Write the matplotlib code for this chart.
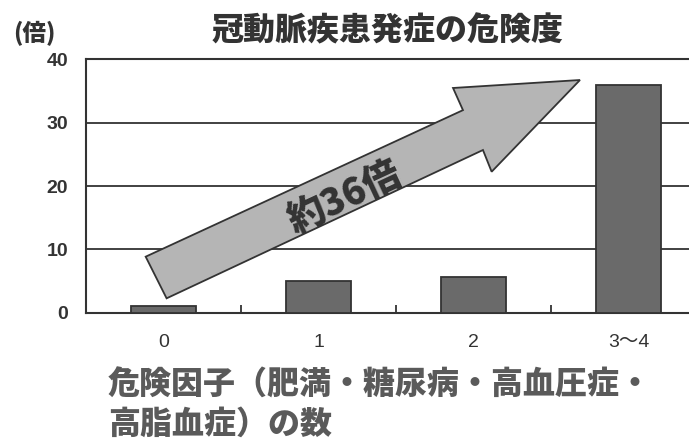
import matplotlib
matplotlib.use("Agg")
import matplotlib.pyplot as plt
from matplotlib.patches import Polygon
import numpy as np

plt.rcParams['font.family'] = ['Noto Sans CJK JP', 'DejaVu Sans']

# ---- data ----
categories = ['0', '1', '2', '3～4']
values = [1.0, 5.0, 5.7, 36.0]
y_ticks = [0, 10, 20, 30, 40]
title = '冠動脈疾患発症の危険度'
unit_label = '(倍)'
xlabel_lines = ['危険因子（肥満・糖尿病・高血圧症・', '高脂血症）の数']
arrow_text = '約36倍'

W, H = 689, 442
fig = plt.figure(figsize=(W / 100, H / 100), dpi=100)
fig.patch.set_facecolor('white')

# axes extends beyond the right edge like the reference
left_px, right_px, top_px, zero_px = 86, 706, 59.5, 312.7
ax = fig.add_axes([left_px / W, 1 - zero_px / H,
                   (right_px - left_px) / W, (zero_px - top_px) / H])

x = np.arange(len(categories))
ax.bar(x, values, width=0.42, color='#6a6a6a', edgecolor='#333333',
       linewidth=1.3, zorder=3)

ax.set_xlim(-0.5, len(categories) - 0.5)
ax.set_ylim(0, 40)
ax.set_yticks(y_ticks)
ax.set_yticklabels([str(v) for v in y_ticks])
ax.yaxis.grid(True, color='#333333', linewidth=1.3)
ax.set_axisbelow(True)

ax.set_xticks(x)
ax.set_xticklabels(categories)
ax.set_xticks(np.arange(len(categories) - 1) + 0.5, minor=True)
ax.tick_params(axis='x', which='major', length=0, pad=15)
ax.tick_params(axis='x', which='minor', direction='in', length=6,
               width=1.3, color='#333333')
ax.tick_params(axis='y', length=0, pad=13)
for lab in ax.get_xticklabels():
    lab.set_family(['Liberation Sans', 'Noto Sans CJK JP'])
    lab.set_fontsize(14)
    lab.set_color('#333333')
for lab in ax.get_yticklabels():
    lab.set_family(['Liberation Sans', 'Noto Sans CJK JP'])
    lab.set_fontsize(14)
    lab.set_fontweight('bold')
    lab.set_color('#333333')

for s in ['left', 'top', 'bottom']:
    ax.spines[s].set_color('#333333')
    ax.spines[s].set_linewidth(1.5)
ax.spines['right'].set_visible(False)

# ---- big decorative arrow (in data coordinates) ----
arrow_pts = [(-0.115, 8.85), (0.020, 2.27), (2.061, 25.7), (2.117, 22.27),
             (2.687, 36.76), (1.868, 35.5), (1.932, 32.0)]
arrow = Polygon(arrow_pts, closed=True, facecolor='#b5b5b5',
                edgecolor='#333333', linewidth=1.3, zorder=4)
ax.add_patch(arrow)
ax.text(1.171, 18.1, arrow_text, rotation=25, rotation_mode='anchor',
        ha='center', va='center', fontsize=27, fontweight='black',
        color='#333333', zorder=5)

# ---- titles and labels ----
fig.text(387.5 / W, 1 - 31 / H, title, ha='center', va='center',
         fontsize=23, fontweight='black', color='#333333')
fig.text(34 / W, 1 - 34 / H, unit_label, ha='center', va='center',
         fontsize=17, fontweight='black', color='#333333')
fig.text(108 / W, 1 - 385 / H, xlabel_lines[0], ha='left', va='center',
         fontsize=23, fontweight='black', color='#5a5a5a')
fig.text(108 / W, 1 - 424 / H, xlabel_lines[1], ha='left', va='center',
         fontsize=23, fontweight='black', color='#5a5a5a')

fig.savefig('out.png', dpi=100)
